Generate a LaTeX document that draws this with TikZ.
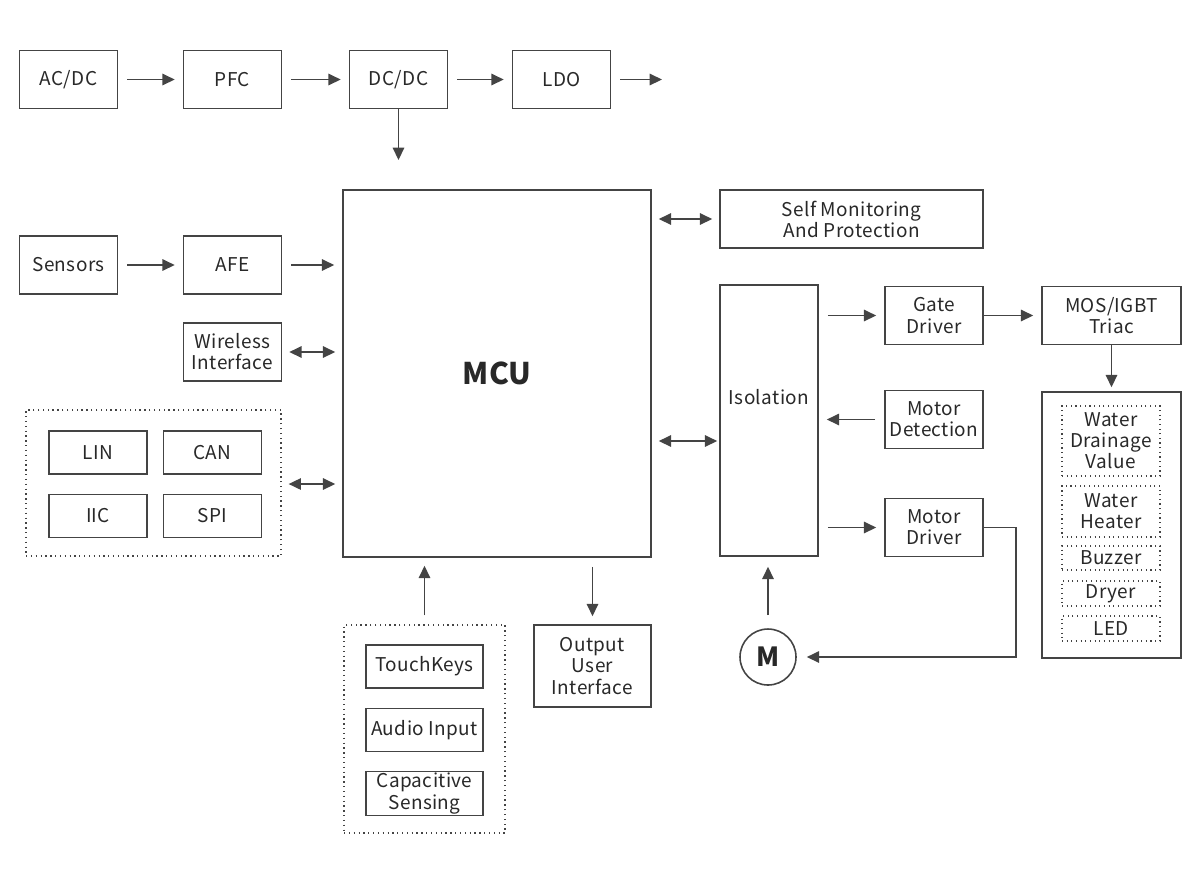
\documentclass[tikz,border=0pt]{standalone}
\usepackage{fontspec}
\setmainfont{Noto Sans CJK SC}[LetterSpace=2]
\usetikzlibrary{arrows.meta}
\definecolor{linegray}{RGB}{68,68,68}
\definecolor{textgray}{RGB}{40,40,40}
\begin{document}
\begin{tikzpicture}[x=0.02cm,y=-0.02cm,
    color=linegray, text=textgray, line width=0.9pt,
    font=\fontsize{10.8}{12}\selectfont,
    blk/.style={draw, align=center, inner sep=1pt, minimum width=1.96cm, minimum height=1.16cm},
    grp/.style={draw, dotted, line width=0.75pt},
    dbox/.style={draw, dotted, line width=0.65pt, align=center, inner sep=0pt, minimum width=1.96cm},
    arr/.style={-{Triangle[length=7pt,width=6.5pt]}, shorten <=0.18cm, shorten >=0.16cm},
    darr/.style={{Triangle[length=7pt,width=6.5pt]}-{Triangle[length=7pt,width=6.5pt]}, shorten <=0.14cm, shorten >=0.14cm}]
  \useasboundingbox (0,0) rectangle (1200,894);
  % power chain
  \node[blk] (acdc) at (68.5,79.5) {AC/DC};
  \node[blk] (pfc) at (232.5,79.5) {PFC};
  \node[blk] (dcdc) at (398.5,79.5) {DC/DC};
  \node[blk] (ldo) at (561.5,79.5) {LDO};
  \coordinate (ldoout) at (670,79.5);
  \coordinate (dcdcout) at (398.5,160);
  % controller
  \node[draw, minimum width=6.16cm, minimum height=7.34cm,
    font=\fontsize{17}{20}\selectfont\bfseries] (mcu) at (497,373.5) {MCU};
  \node[blk] (sensors) at (68.5,265) {Sensors};
  \node[blk] (afe) at (232.5,265) {AFE};
  \node[blk] (wireless) at (232.5,352) {Wireless\\Interface};
  \node[grp, minimum width=5.10cm, minimum height=2.92cm] (bus) at (153.5,483) {};
  \node[blk, minimum height=0.86cm] (lin) at (98,452.5) {LIN};
  \node[blk, minimum height=0.86cm] (can) at (212.5,452.5) {CAN};
  \node[blk, minimum height=0.86cm] (iic) at (98,516) {IIC};
  \node[blk, minimum height=0.86cm] (spi) at (212.5,516) {SPI};
  % inputs and outputs below
  \node[grp, minimum width=3.22cm, minimum height=4.16cm] (touch) at (424.5,729) {};
  \node[blk, minimum width=2.34cm, minimum height=0.86cm] (keys) at (424.5,666.5) {TouchKeys};
  \node[blk, minimum width=2.34cm, minimum height=0.86cm] (audio) at (424.5,730) {Audio Input};
  \node[blk, minimum width=2.34cm, minimum height=0.86cm] (capsense) at (424.5,793.5) {Capacitive\\Sensing};
  \node[blk, minimum width=2.34cm, minimum height=1.64cm] (outui) at (592.5,666) {Output\\User\\Interface};
  % right side
  \node[blk, minimum width=5.26cm] (selfmon) at (851.5,219) {Self Monitoring\\And Protection};
  \node[draw, minimum width=1.96cm, minimum height=5.42cm,
    label={[yshift=0.46cm]center:Isolation}] (iso) at (769,420.5) {};
  \node[blk] (gate) at (934,315.5) {Gate\\Driver};
  \node[blk] (motdet) at (934,419.5) {Motor\\Detection};
  \node[blk] (motdrv) at (934,527.5) {Motor\\Driver};
  \node[blk, minimum width=2.78cm] (mos) at (1111.5,315.5) {MOS/IGBT\\Triac};
  \node[draw, minimum width=2.78cm, minimum height=5.32cm] (loads) at (1111.5,525) {};
  \node[dbox, minimum height=1.40cm] (drain) at (1111,441) {Water\\Drainage\\Value};
  \node[dbox, minimum height=1.02cm] (heater) at (1111,511.5) {Water\\Heater};
  \node[dbox, minimum height=0.48cm] (buzzer) at (1111,558) {Buzzer};
  \node[dbox, minimum height=0.50cm] (dryer) at (1111,593.5) {Dryer};
  \node[dbox, minimum height=0.50cm] (led) at (1111,628.5) {LED};
  \node[draw, circle, minimum size=1.12cm, inner sep=0pt,
    font=\fontsize{15}{17}\selectfont\bfseries] (motor) at (768,657) {M};
  \coordinate (fbcorner) at (1016,527.5);
  % connectors
  \begin{scope}[arr]
    \draw (acdc) -- (pfc);
    \draw (pfc) -- (dcdc);
    \draw (dcdc) -- (ldo);
    \draw (ldo) -- (ldoout);
    \draw[shorten <=0pt, shorten >=0pt] (dcdc) -- (dcdcout);
    \draw (sensors) -- (afe);
    \draw (afe) -- (afe -| mcu.west);
    \draw (touch.north) -- (touch.north |- mcu.south);
    \draw (outui.north |- mcu.south) -- (outui.north);
    \draw (iso.east |- gate) -- (gate);
    \draw[shorten <=0pt] (gate) -- (mos);
    \draw (motdet) -- (motdet -| iso.east);
    \draw (iso.east |- motdrv) -- (motdrv);
    \draw[shorten <=0pt, shorten >=0.08cm] (mos) -- (mos |- loads.north);
    \draw[shorten <=0.26cm, shorten >=0.2cm] (motor) -- (motor |- iso.south);
    \draw[shorten <=0pt, shorten >=0.2cm] (motdrv.east) -- (fbcorner) |- (motor.east);
  \end{scope}
  \begin{scope}[darr]
    \draw (wireless) -- (wireless -| mcu.west);
    \draw (bus.east |- 0,484) -- (mcu.west |- 0,484);
    \draw (mcu.east |- selfmon) -- (selfmon);
    \draw[shorten >=0.04cm] (mcu.east |- 0,441) -- (iso.west |- 0,441);
  \end{scope}
\end{tikzpicture}
\end{document}
